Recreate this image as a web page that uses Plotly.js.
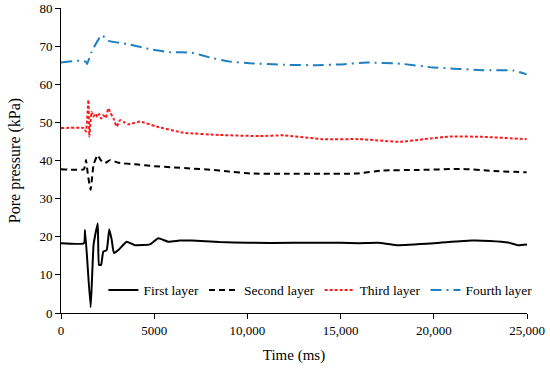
<!DOCTYPE html>
<html>
<head>
<meta charset="utf-8">
<script src="https://cdn.plot.ly/plotly-3.0.1.min.js"></script>
<style>html,body{margin:0;padding:0;background:#fff;}#chart{width:550px;height:369px;}</style>
</head>
<body>
<div id="chart"></div>
<script>
// Time (ms) and pore pressure (kPa) per layer
const t1 = [0, 1230, 1290, 1590, 1750, 1970, 2040, 2150, 2270, 2450, 2590, 2720, 2840, 3080, 3520, 3970, 4770, 5220, 5760, 6380, 7000, 8500, 10000, 12500, 15000, 16000, 17000, 18000, 20000, 22000, 23000, 24000, 24500, 25000];
const v1 = [18.3, 18.3, 21.8, 1.5, 18.0, 23.5, 12.6, 12.6, 16.1, 16.5, 22.0, 19.2, 15.7, 16.5, 18.7, 17.8, 18.0, 19.6, 18.7, 19.0, 19.0, 18.6, 18.4, 18.4, 18.4, 18.3, 18.4, 17.8, 18.3, 19.0, 18.9, 18.5, 17.8, 18.0];

const t2 = [0, 1230, 1340, 1450, 1590, 1750, 1970, 2130, 2360, 2630, 3080, 4000, 5000, 6000, 7000, 8000, 9000, 10140, 12000, 14000, 15860, 17270, 19000, 21570, 23000, 24980];
const v2 = [37.7, 37.7, 40.1, 36.0, 32.3, 39.0, 41.4, 40.1, 39.3, 40.1, 39.4, 39.0, 38.5, 38.2, 37.9, 37.6, 37.1, 36.6, 36.5, 36.5, 36.6, 37.4, 37.5, 37.8, 37.3, 36.9];

const t3 = [0, 1230, 1340, 1470, 1520, 1640, 1730, 1850, 1950, 2050, 2150, 2270, 2400, 2540, 2650, 2810, 2990, 3170, 3400, 3610, 4240, 5130, 6560, 8530, 10680, 11930, 14050, 16000, 18190, 19500, 20870, 22640, 24980];
const v3 = [48.5, 48.5, 47.6, 55.9, 46.3, 52.8, 51.5, 52.3, 51.4, 52.2, 51.0, 51.9, 51.2, 53.7, 52.5, 51.1, 48.9, 50.6, 50.0, 49.5, 50.2, 48.9, 47.3, 46.7, 46.4, 46.6, 45.6, 45.6, 44.9, 45.6, 46.3, 46.2, 45.6];

const t4 = [0, 1020, 1340, 1400, 1640, 2180, 2540, 3520, 4770, 5850, 7000, 8000, 9000, 10140, 12000, 13720, 15000, 16400, 18190, 19970, 22640, 24260, 24980];
const v4 = [65.7, 66.2, 65.9, 65.3, 68.5, 72.9, 71.4, 70.6, 69.2, 68.4, 68.3, 67.0, 66.0, 65.5, 65.1, 65.0, 65.2, 65.7, 65.4, 64.4, 63.7, 63.6, 62.6];

const names = ["First layer", "Second layer", "Third layer", "Fourth layer"];
const xTickVals = [0, 5000, 10000, 15000, 20000, 25000];
const xTickText = ["0", "5000", "10,000", "15,000", "20,000", "25,000"];

const font = "Liberation Serif";

const traces = [
  {x: t1, y: v1, name: names[0], mode: "lines", line: {color: "#000000", width: 2, shape: "spline", smoothing: 0.4}},
  {x: t2, y: v2, name: names[1], mode: "lines", line: {color: "#000000", width: 2, dash: "6px,4px", shape: "spline", smoothing: 0.4}},
  {x: t3, y: v3, name: names[2], mode: "lines", line: {color: "#ff1a1a", width: 2, dash: "3px,2px", shape: "spline", smoothing: 0.4}},
  {x: t4, y: v4, name: names[3], mode: "lines", line: {color: "#1f7fbf", width: 2, dash: "11px,5px,2px,5px", shape: "spline", smoothing: 0.4}}
];

const layout = {
  width: 550, height: 369,
  margin: {l: 61, r: 23, t: 8, b: 56},
  paper_bgcolor: "#fff", plot_bgcolor: "#fff",
  font: {family: font, size: 13, color: "#000"},
  showlegend: true,
  legend: {orientation: "h", x: 0.091, y: 0.075, xanchor: "left", yanchor: "middle", bgcolor: "rgba(0,0,0,0)", font: {family: font, size: 13.5, color: "#000"}, tracegroupgap: 0},
  xaxis: {
    range: [0, 25000], showgrid: false, zeroline: false, showline: true, linecolor: "#000", linewidth: 1,
    ticks: "outside", ticklen: 5, tickcolor: "#000", tickvals: xTickVals, ticktext: xTickText,
    tickfont: {family: font, size: 13, color: "#000"},
    title: {text: "Time (ms)", font: {family: font, size: 15, color: "#000"}, standoff: 12}
  },
  yaxis: {
    range: [0, 80], dtick: 10, showgrid: false, zeroline: false, showline: true, linecolor: "#000", linewidth: 1,
    ticks: "outside", ticklen: 5, tickcolor: "#000",
    tickfont: {family: font, size: 13, color: "#000"},
    title: {text: "Pore pressure (kPa)", font: {family: font, size: 16, color: "#000"}, standoff: 14}
  }
};

Plotly.newPlot("chart", traces, layout, {displayModeBar: false, staticPlot: true});
</script>
</body>
</html>
